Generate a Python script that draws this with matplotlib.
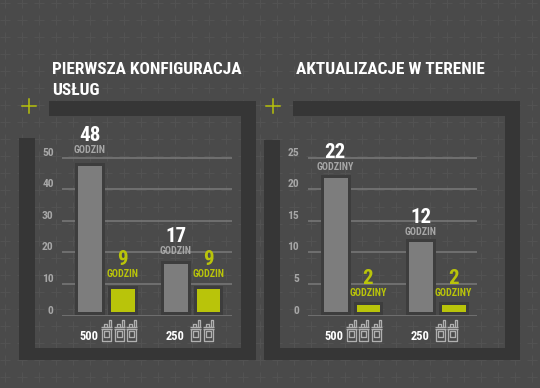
import matplotlib
matplotlib.use('Agg')
import matplotlib.pyplot as plt
from matplotlib.patches import Rectangle

groups = ['500', '250']

left_title = ['PIERWSZA KONFIGURACJA', 'USŁUG']
left_ticks = [0, 10, 20, 30, 40, 50]
left_gray = [48, 17]
left_yellow = [9, 9]
left_gray_units = ['GODZIN', 'GODZIN']
left_yellow_units = ['GODZIN', 'GODZIN']

right_title = ['AKTUALIZACJE W TERENIE']
right_ticks = [0, 5, 10, 15, 20, 25]
right_gray = [22, 12]
right_yellow = [2, 2]
right_gray_units = ['GODZINY', 'GODZIN']
right_yellow_units = ['GODZINY', 'GODZINY']

BG = '#4a4a4a'
CROSS = '#525252'
DARK = '#363636'
BORDER = '#3d3d3d'
GRAY = '#7d7d7d'
YELLOW = '#b9c40a'
LIGHT = '#a6a6a6'
FONT = ['Roboto Condensed', 'Roboto', 'DejaVu Sans']
W, H = 540, 388


def px(v):
    return v * 72 / 100


fig = plt.figure(figsize=(W / 100, H / 100), dpi=100, facecolor=BG)

# background layer in pixel coordinates
bg = fig.add_axes([0, 0, 1, 1])
bg.set_xlim(0, W)
bg.set_ylim(H, 0)
bg.axis('off')

for cx in range(5, W + 16, 17):
    for cy in range(3, H + 16, 17):
        bg.plot([cx - 5, cx + 5], [cy, cy], color=CROSS, lw=px(1.2), solid_capstyle='butt')
        bg.plot([cx, cx], [cy - 5, cy + 5], color=CROSS, lw=px(1.2), solid_capstyle='butt')


def frame(x0, top0, x1, y1, x_top):
    # broken dark frame round one panel
    bg.add_patch(Rectangle((x_top, 101), x1 - x_top, 15, color=DARK, lw=0, zorder=3))
    bg.add_patch(Rectangle((x1 - 15, 101), 15, y1 - 101, color=DARK, lw=0, zorder=3))
    bg.add_patch(Rectangle((x0, 348), x1 - x0, y1 - 348, color=DARK, lw=0, zorder=3))
    bg.add_patch(Rectangle((x0, top0), 15.5, y1 - top0, color=DARK, lw=0, zorder=3))
    cx, cy = x_top - 20.5, 105.5
    bg.plot([cx - 7, cx + 7], [cy, cy], color=YELLOW, lw=px(1.5), zorder=4)
    bg.plot([cx, cx], [cy - 7, cy + 7], color=YELLOW, lw=px(1.5), zorder=4)


def radio(x, col='#b0b0b0'):
    # walkie-talkie icon, 11 px wide
    kw = dict(color=col, lw=px(1.3), zorder=4, solid_capstyle='butt')
    bg.plot([x, x + 11], [327, 327], **kw)
    bg.plot([x, x + 11], [329, 329], **kw)
    bg.plot([x + 1, x + 1, x + 10, x + 10, x + 1], [329, 341, 341, 329, 329], **kw)
    bg.plot([x + 3, x + 3, x + 8, x + 8, x + 3], [331, 337, 337, 331, 331], **kw)
    bg.plot([x + 8, x + 8, x + 10, x + 10], [327, 320, 320, 327], **kw)
    bg.plot([x + 3, x + 3, x + 6, x + 6], [327, 324, 324, 327], **kw)


def panel(x0, x1, title, title_x, ticks, gray, yellow, gray_units, yellow_units,
          gray_offs, yellow_offs, count_x, radio_x):
    ax = fig.add_axes([x0 / W, 1 - 315.5 / H, (x1 - x0) / W, 198 / H])
    ymax = ticks[-1]
    unit = 158 / ymax
    base = 3 / unit * 0.7
    ax.set_ylim(0, ymax * 198 / 158)
    ax.set_xlim(-0.515, 1.465)
    ax.patch.set_alpha(0)
    for s in ax.spines.values():
        s.set_visible(False)
    ax.set_xticks([])
    ax.set_yticks(ticks)
    ax.set_yticklabels([str(t) for t in ticks], family=FONT, fontsize=px(11.5),
                       color=LIGHT, fontweight='bold', va='bottom')
    ax.tick_params(axis='y', length=0, pad=6)
    ax.set_axisbelow(True)
    ax.grid(axis='y', color='#7b7b7b', lw=px(1.5))

    for i in range(len(gray)):
        ax.bar(i - 0.19, gray[i] - base, 0.315, bottom=base, color=GRAY, edgecolor=BORDER, lw=px(3), zorder=3)
        ax.bar(i + 0.19, yellow[i] - base, 0.305, bottom=base, color=YELLOW, edgecolor=BORDER, lw=px(3), zorder=3)
        for xx, v, u, c, c2, off in ((i - 0.19, gray[i], gray_units[i], 'white', LIGHT, gray_offs[i]),
                                     (i + 0.19, yellow[i], yellow_units[i], YELLOW, YELLOW, yellow_offs)):
            ax.annotate(str(v), (xx, v), xytext=(0, off + 14.5), textcoords='offset pixels',
                        ha='center', va='center', family=FONT, fontweight='bold',
                        fontsize=px(21), color=c, zorder=5)
            ax.annotate(u, (xx, v), xytext=(0, off), textcoords='offset pixels',
                        ha='center', va='center', family=FONT, fontweight='bold',
                        fontsize=px(10), color=c2, zorder=5)

    for n, line in enumerate(title):
        bg.text(title_x, 74 + 21 * n, line, family=FONT, fontweight='bold', fontsize=px(17.3),
                color='white', zorder=5)

    for g, tx in zip(groups, count_x):
        bg.text(tx, 336, g, family=FONT, fontweight='bold', fontsize=px(12.5), color='white',
                ha='center', va='center', zorder=5)
    for rx in radio_x:
        radio(rx)
    return ax


frame(19, 138, 256, 360, 49)
frame(264, 140, 520, 360, 293)

panel(62, 232, left_title, 52, left_ticks, left_gray, left_yellow,
      left_gray_units, left_yellow_units, [14, 11], 13, [88.5, 175.5], [101, 113.5, 126, 190, 202.5])
panel(307.5, 477, right_title, 296, right_ticks, right_gray, right_yellow,
      right_gray_units, right_yellow_units, [9.5, 8], 10, [333.5, 420.5], [345.5, 358, 370.5, 434.5, 447])

fig.savefig('out.png', dpi=100, facecolor=BG)
